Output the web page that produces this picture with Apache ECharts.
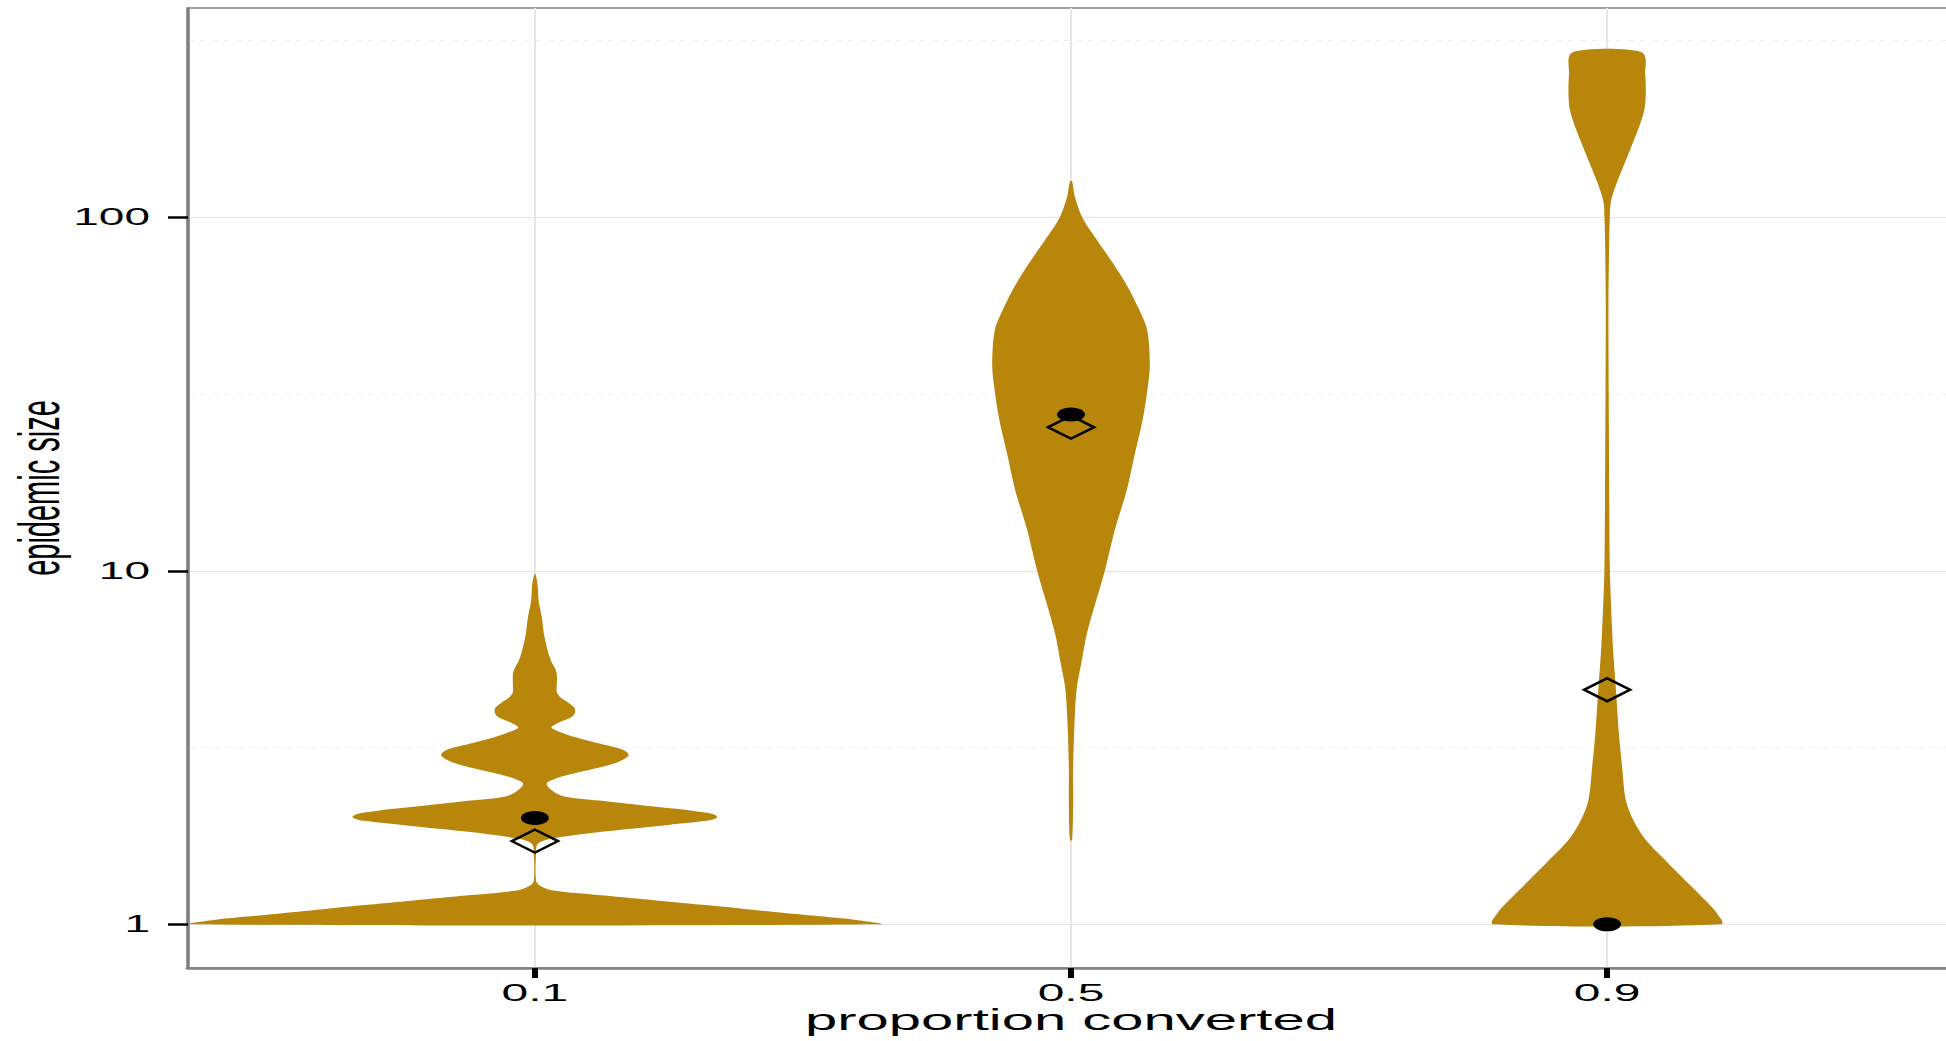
<!DOCTYPE html>
<html>
<head>
<meta charset="utf-8">
<script src="https://cdn.jsdelivr.net/npm/echarts@6/dist/echarts.min.js"></script>
<style>
html, body { margin: 0; padding: 0; overflow: hidden; background: #ffffff; width: 1946px; height: 1041px; }
#chart { width: 980px; height: 1041px; transform: scaleX(2); transform-origin: 0 0; }
</style>
</head>
<body>
<div id="chart"></div>
<script>
// ---- data ----
const categories = ['0.1', '0.5', '0.9'];
const categoryPositions = [0, 1, 2];
const yTickValues = [1, 10, 100];
const yMinorValues = [3.162, 31.62, 316.2];

// violin outlines: epidemic size levels and half widths (in category units)
const v1Sizes = [1.000, 1.038, 1.060, 1.095, 1.132, 1.169, 1.207, 1.247, 1.288, 1.331, 1.585, 1.694, 1.746, 1.824, 1.905, 1.960, 1.991, 2.018, 2.056, 2.100, 2.143, 2.239, 2.312, 2.497, 2.606, 2.723, 2.844, 2.938, 3.020, 3.116, 3.236, 3.381, 3.532, 3.608, 3.728, 3.852, 3.981, 4.111, 4.246, 4.385, 4.532, 4.786, 5.109, 5.330, 5.570, 5.940, 6.620, 7.380, 8.230, 9.170, 9.790];
const v1Half  = [0.644, 0.578, 0.515, 0.418, 0.323, 0.226, 0.129, 0.034, 0.009, 0.002, 0.002, 0.006, 0.030, 0.120, 0.240, 0.315, 0.336, 0.340, 0.330, 0.290, 0.235, 0.120, 0.050, 0.022, 0.046, 0.096, 0.145, 0.167, 0.175, 0.165, 0.124, 0.076, 0.041, 0.031, 0.046, 0.068, 0.075, 0.073, 0.062, 0.048, 0.041, 0.041, 0.041, 0.037, 0.030, 0.024, 0.017, 0.013, 0.007, 0.005, 0.001];

const v2Sizes = [1.73, 2.21, 2.79, 3.85, 4.70, 5.46, 6.68, 8.45, 10.0, 13.1, 16.9, 21.4, 26.9, 32.1, 38.2, 48.1, 55.7, 64.3, 74.3, 86.1, 99.3, 114.8, 126.5];
const v2Half  = [0.002, 0.004, 0.004, 0.007, 0.011, 0.019, 0.030, 0.049, 0.063, 0.082, 0.104, 0.119, 0.134, 0.142, 0.147, 0.142, 0.125, 0.104, 0.078, 0.049, 0.022, 0.007, 0.002];

const v3Sizes = [1.000, 1.074, 1.17, 1.33, 1.52, 1.74, 1.97, 2.24, 2.78, 3.46, 4.49, 6.05, 8.22, 10.2, 15.8, 31.6, 56.2, 89.1, 99.3, 110.9, 126.5, 143.9, 164.1, 186.6, 208.4, 253.5, 294.4];
const v3Half  = [0.211, 0.205, 0.183, 0.146, 0.108, 0.071, 0.049, 0.035, 0.028, 0.022, 0.017, 0.011, 0.007, 0.005, 0.004, 0.003, 0.0025, 0.004, 0.005, 0.007, 0.019, 0.034, 0.049, 0.063, 0.071, 0.071, 0.062];

const medians = [2, 27.7, 1];
const means = [1.72, 25.5, 4.61];

// ---- chart ----
const violins = [
  { sizes: v1Sizes, half: v1Half },
  { sizes: v2Sizes, half: v2Half },
  { sizes: v3Sizes, half: v3Half }
];
const yMin = Math.pow(10, -0.1235);
const yMax = Math.pow(10, 2.5925);
const FONT = "'Liberation Sans', Arial, sans-serif";

function renderViolin(params, api) {
  const v = violins[params.dataIndex];
  const xc = api.value(0);
  const left = [], right = [];
  for (let k = 0; k < v.sizes.length; k++) {
    left.push(api.coord([xc - v.half[k], v.sizes[k]]));
    right.push(api.coord([xc + v.half[k], v.sizes[k]]));
  }
  return {
    type: 'polygon',
    shape: { points: left.concat(right.reverse()), smooth: 0.3 },
    style: { fill: '#B8860B', stroke: null }
  };
}

const chart = echarts.init(document.getElementById('chart'), null, { renderer: 'svg' });
chart.setOption({
  animation: false,
  backgroundColor: '#ffffff',
  textStyle: { fontFamily: FONT },
  grid: { left: 94, right: 3, top: 8, bottom: 73, containLabel: false, outerBoundsMode: 'none', show: true, borderColor: '#808080', borderWidth: 1.5, backgroundColor: 'transparent' },
  xAxis: {
    type: 'value', min: -0.647, max: 2.647,
    name: 'proportion converted', nameLocation: 'middle', nameGap: 37.5, nameMoveOverlap: false,
    nameTextStyle: { fontSize: 29, color: '#000', fontFamily: FONT },
    axisLine: { show: true, onZero: false, lineStyle: { color: '#808080', width: 2.6 } },
    axisTick: { show: true, customValues: categoryPositions, length: 10, lineStyle: { color: '#000', width: 3 } },
    axisLabel: { customValues: categoryPositions, formatter: function (v) { return categories[Math.round(v)]; }, fontSize: 24, color: '#000', margin: 13, fontFamily: FONT },
    splitLine: { show: true, lineStyle: { color: '#e6e6e6', width: 1 } }
  },
  yAxis: [{
    type: 'log', logBase: 10, min: yMin, max: yMax,
    name: 'epidemic size', nameLocation: 'middle', nameGap: 60, nameRotate: 90, nameMoveOverlap: false,
    nameTextStyle: { fontSize: 29, color: '#000', fontFamily: FONT },
    axisLine: { show: true, onZero: false, lineStyle: { color: '#808080', width: 1.6 } },
    axisTick: { show: true, customValues: yTickValues, length: 10, lineStyle: { color: '#000', width: 2.5 } },
    axisLabel: { customValues: yTickValues, fontSize: 23, color: '#000', margin: 19, fontFamily: FONT },
    splitLine: { show: true, lineStyle: { color: '#e3e3e3', width: 1 } }
  }, {
    type: 'log', logBase: 10, min: yMin, max: yMax, position: 'left',
    axisLine: { show: false, onZero: false },
    axisTick: { show: false, customValues: yMinorValues },
    axisLabel: { show: false, customValues: yMinorValues },
    splitLine: { show: true, lineStyle: { color: '#efefef', width: 1, type: [3, 3] } }
  }],
  series: [{
    type: 'custom',
    renderItem: renderViolin,
    data: categoryPositions.map(function (x) { return [x, 1]; }),
    encode: { x: 0, y: 1 },
    silent: true,
    z: 2
  }, {
    type: 'scatter',
    data: categoryPositions.map(function (x, i) { return [x, means[i]]; }),
    symbol: 'diamond', symbolSize: 23,
    itemStyle: { color: 'transparent', borderColor: '#000', borderWidth: 2, opacity: 1 },
    silent: true, z: 3
  }, {
    type: 'scatter',
    data: categoryPositions.map(function (x, i) { return [x, medians[i]]; }),
    symbol: 'circle', symbolSize: 14,
    itemStyle: { color: '#000000', opacity: 1 },
    silent: true, z: 4
  }]
});
</script>
</body>
</html>
